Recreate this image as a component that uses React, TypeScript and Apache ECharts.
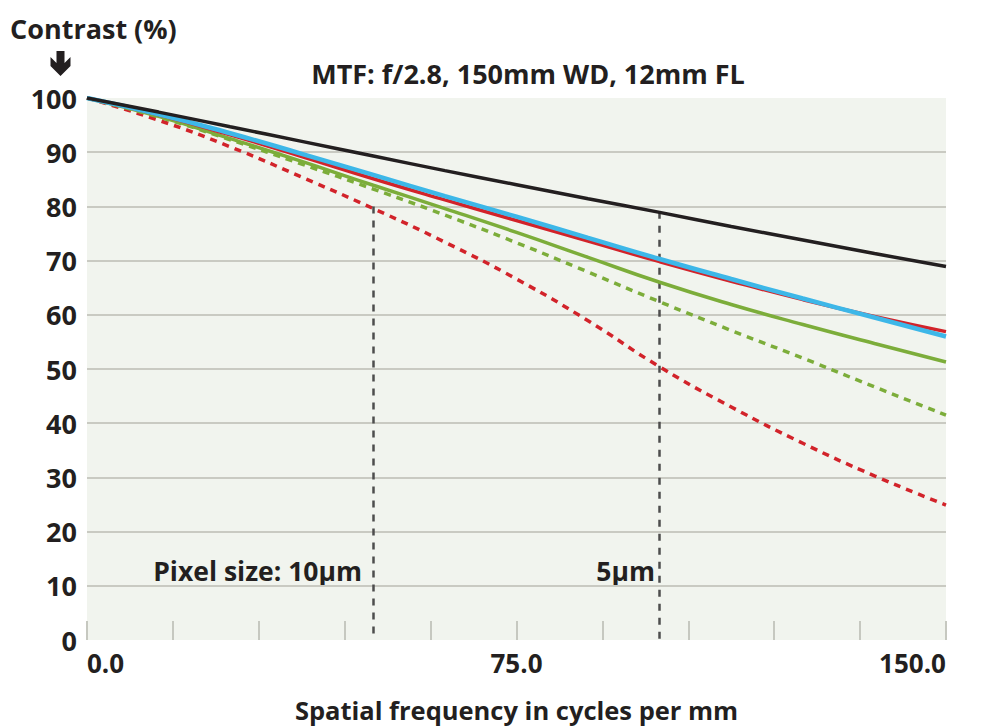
import React, { useEffect, useRef } from "react";
import * as echarts from "echarts";

const freq = [0, 12.5, 25, 37.5, 50, 62.5, 75, 87.5, 100, 112.5, 125, 137.5, 150];
const blackSolid = [100, 97.4, 94.7, 92.0, 89.3, 86.6, 84.0, 81.4, 78.9, 76.3, 73.8, 71.3, 68.9];
const blueSolid = [100, 97.0, 93.5, 89.7, 85.8, 81.9, 78.1, 74.2, 70.3, 66.6, 63.0, 59.5, 56.0];
const redSolid = [100, 96.9, 93.2, 89.2, 85.1, 81.2, 77.4, 73.6, 69.8, 66.2, 62.8, 59.7, 56.9];
const greenSolid = [100, 96.6, 92.5, 88.3, 83.9, 79.6, 75.2, 70.6, 66.0, 61.9, 58.2, 54.7, 51.3];
const greenDashed = [100, 96.5, 92.3, 87.8, 83.2, 78.4, 73.3, 67.9, 62.4, 57.1, 52.0, 46.7, 41.5];
const redDashed = [100, 95.9, 91.0, 85.4, 79.6, 73.4, 66.6, 58.9, 50.4, 43.0, 36.3, 30.3, 24.9];

const pixelMarkers = [
  { freq: 50, contrast: 80, label: "Pixel size: 10µm" },
  { freq: 100, contrast: 79, label: "5µm" },
];
const xLabelValues = [0, 75, 150];

const FONT = "'Open Sans', 'Noto Sans', sans-serif";
const INK = "#231f20";
const pair = (ys: number[]) => freq.map((f, i) => [f, ys[i]]);

export default function App() {
  const ref = useRef<HTMLDivElement>(null);
  useEffect(() => {
    if (!ref.current) return;
    const chart = echarts.init(ref.current, null, { renderer: "svg" });
    const mk = (name: string, ys: number[], color: string, width: number, dashed: boolean, z: number, extra: any = {}) => ({
      name,
      type: "line",
      data: pair(ys),
      smooth: 0.5,
      showSymbol: false,
      symbol: "none",
      z,
      lineStyle: { color, width, type: dashed ? [7, 6] : "solid", cap: "butt" },
      ...extra,
    });
    const labelText = (text: string, x: number) => ({
      type: "text",
      x,
      y: 571,
      style: {
        text,
        align: "right",
        verticalAlign: "middle",
        fontFamily: FONT,
        fontWeight: "bold",
        fontSize: 26.5,
        fill: INK,
      },
    });
    chart.setOption({
      animation: false,
      textStyle: { fontFamily: FONT },
      grid: {
        left: 87,
        right: 37,
        top: 98,
        bottom: 86,
        show: true,
        backgroundColor: "#f1f4ee",
        borderWidth: 0,
        containLabel: false,
        outerBoundsMode: "none",
      },
      title: {
        text: "MTF: f/2.8, 150mm WD, 12mm FL",
        left: 523,
        textAlign: "center",
        top: 55,
        textStyle: { fontFamily: FONT, fontWeight: "bold", fontSize: 27, color: INK },
      },
      xAxis: {
        type: "value",
        min: 0,
        max: 150,
        interval: 15,
        name: "Spatial frequency in cycles per mm",
        nameLocation: "middle",
        nameGap: 57,
        nameTextStyle: { fontFamily: FONT, fontWeight: "bold", fontSize: 25.5, color: INK },
        axisLine: { show: false },
        axisTick: { show: true, inside: true, length: 19, lineStyle: { color: "#c6c8c0", width: 2 } },
        splitLine: { show: false },
        axisLabel: {
          fontFamily: FONT,
          fontWeight: "bold",
          fontSize: 26,
          color: INK,
          margin: 10,
          alignMinLabel: "left",
          alignMaxLabel: "right",
          formatter: (v: number) => (xLabelValues.includes(v) ? v.toFixed(1) : ""),
        },
      },
      yAxis: {
        type: "value",
        min: 0,
        max: 100,
        interval: 10,
        axisLine: { show: false },
        axisTick: { show: false },
        axisLabel: { fontFamily: FONT, fontWeight: "bold", fontSize: 27, color: INK, margin: 10 },
        splitLine: {
          show: true,
          lineStyle: {
            width: 2,
            color: ["transparent", "#c9cac2", "#c9cac2", "#c9cac2", "#c9cac2", "#c9cac2", "#c9cac2", "#c9cac2", "#c9cac2", "#c9cac2", "transparent"],
          },
        },
      },
      series: [
        mk("red dashed", redDashed, "#d2232a", 3.5, true, 3, {
          markLine: {
            silent: true,
            symbol: "none",
            animation: false,
            label: { show: false },
            lineStyle: { color: "#4d4d4d", width: 2.5, type: [7, 7] },
            data: pixelMarkers.map((m) => [{ coord: [m.freq, m.contrast] }, { coord: [m.freq, 0] }]),
          },
        }),
        mk("green dashed", greenDashed, "#7cad3a", 3.5, true, 4),
        mk("green", greenSolid, "#7cad3a", 3.5, false, 5),
        mk("red", redSolid, "#d2232a", 3.5, false, 6),
        mk("blue", blueSolid, "#3db7e8", 4.5, false, 7),
        mk("black", blackSolid, INK, 3.5, false, 8),
      ],
      graphic: [
        {
          type: "text",
          x: 10,
          y: 28,
          style: { text: "Contrast (%)", verticalAlign: "middle", fontFamily: FONT, fontWeight: "bold", fontSize: 27, fill: INK },
        },
        {
          type: "polygon",
          shape: {
            points: [
              [56.5, 51], [64.5, 51], [64.5, 63], [70.5, 57], [70.5, 66], [60.5, 76], [50.5, 66], [50.5, 57], [56.5, 63],
            ],
          },
          style: { fill: INK },
        },
        labelText(pixelMarkers[0].label, 362),
        labelText(pixelMarkers[1].label, 655),
      ],
    });
    return () => chart.dispose();
  }, []);
  return <div ref={ref} style={{ width: 983, height: 726, position: "absolute", left: 0, top: 0 }} />;
}
